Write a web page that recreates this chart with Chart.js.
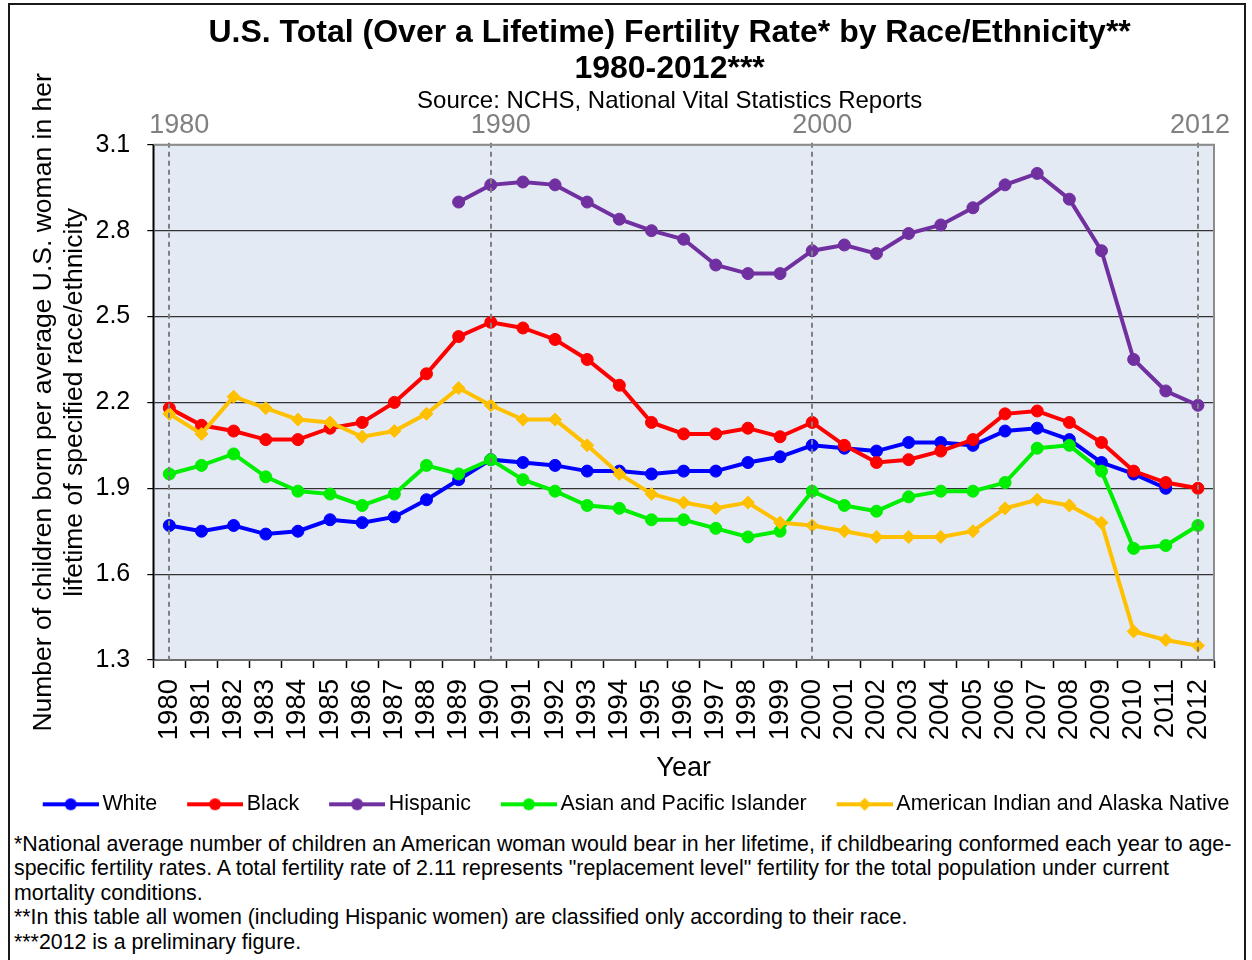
<!DOCTYPE html>
<html>
<head>
<meta charset="utf-8">
<script src="https://cdn.jsdelivr.net/npm/chart.js@4.4.0/dist/chart.umd.min.js"></script>
<style>
  html, body { margin: 0; padding: 0; background: #fff; }
  #wrap { position: relative; width: 1252px; height: 960px; overflow: hidden; }
  #frame { position: absolute; left: 8px; top: 3px; width: 1238px; height: 990px; border: 2px solid #1a1a1a; box-sizing: border-box; }
  #box { position: absolute; left: 0; top: 0; width: 1252px; height: 827px; }
  #notes { position: absolute; left: 14px; top: 832px; width: 1236px; font: 21.35px "Liberation Sans", Arial, sans-serif; line-height: 24.4px; color: #000; white-space: nowrap; }
</style>
</head>
<body>
<div id="wrap">
  <div id="frame"></div>
  <div id="box"><canvas id="chart"></canvas></div>
  <div id="notes">
    *National average number of children an American woman would bear in her lifetime, if childbearing conformed each year to age-<br>
    specific fertility rates. A total fertility rate of 2.11 represents "replacement level" fertility for the total population under current<br>
    mortality conditions.<br>
    **In this table all women (including Hispanic women) are classified only according to their race.<br>
    ***2012 is a preliminary figure.
  </div>
</div>
<script>
const years = ["1980", "1981", "1982", "1983", "1984", "1985", "1986", "1987", "1988", "1989",
  "1990", "1991", "1992", "1993", "1994", "1995", "1996", "1997", "1998", "1999",
  "2000", "2001", "2002", "2003", "2004", "2005", "2006", "2007", "2008", "2009",
  "2010", "2011", "2012"];

const white = [1.77, 1.75, 1.77, 1.74, 1.75, 1.79, 1.78, 1.80, 1.86, 1.93,
  2.00, 1.99, 1.98, 1.96, 1.96, 1.95, 1.96, 1.96, 1.99, 2.01,
  2.05, 2.04, 2.03, 2.06, 2.06, 2.05, 2.10, 2.11, 2.07, 1.99,
  1.95, 1.90, null];

const black = [2.18, 2.12, 2.10, 2.07, 2.07, 2.11, 2.13, 2.20, 2.30, 2.43,
  2.48, 2.46, 2.42, 2.35, 2.26, 2.13, 2.09, 2.09, 2.11, 2.08,
  2.13, 2.05, 1.99, 2.00, 2.03, 2.07, 2.16, 2.17, 2.13, 2.06,
  1.96, 1.92, 1.90];

const hispanic = [null, null, null, null, null, null, null, null, null, 2.90,
  2.96, 2.97, 2.96, 2.90, 2.84, 2.80, 2.77, 2.68, 2.65, 2.65,
  2.73, 2.75, 2.72, 2.79, 2.82, 2.88, 2.96, 3.00, 2.91, 2.73,
  2.35, 2.24, 2.19];

const asian = [1.95, 1.98, 2.02, 1.94, 1.89, 1.88, 1.84, 1.88, 1.98, 1.95,
  2.00, 1.93, 1.89, 1.84, 1.83, 1.79, 1.79, 1.76, 1.73, 1.75,
  1.89, 1.84, 1.82, 1.87, 1.89, 1.89, 1.92, 2.04, 2.05, 1.96,
  1.69, 1.70, 1.77];

const aian = [2.16, 2.09, 2.22, 2.18, 2.14, 2.13, 2.08, 2.10, 2.16, 2.25,
  2.19, 2.14, 2.14, 2.05, 1.95, 1.88, 1.85, 1.83, 1.85, 1.78,
  1.77, 1.75, 1.73, 1.73, 1.73, 1.75, 1.83, 1.86, 1.84, 1.78,
  1.40, 1.37, 1.35];

const markYears = ["1980", "1990", "2000", "2012"];
const yTicks = [1.3, 1.6, 1.9, 2.2, 2.5, 2.8, 3.1];

const FONT = '"Liberation Sans", Arial, sans-serif';
Chart.defaults.font.family = FONT;
Chart.defaults.color = "#000";

// little line+marker pictures for the legend
function legendIcon(color, shape) {
  const c = document.createElement("canvas");
  c.width = 83;
  c.height = 16;
  const ctx = c.getContext("2d");
  ctx.strokeStyle = color;
  ctx.fillStyle = color;
  ctx.lineWidth = 4;
  ctx.beginPath();
  ctx.moveTo(27, 8);
  ctx.lineTo(83, 8);
  ctx.stroke();
  ctx.beginPath();
  if (shape === "diamond") {
    ctx.moveTo(55, 1.5);
    ctx.lineTo(61.5, 8);
    ctx.lineTo(55, 14.5);
    ctx.lineTo(48.5, 8);
    ctx.closePath();
  } else {
    ctx.arc(55, 8, 6, 0, Math.PI * 2);
  }
  ctx.fill();
  return c;
}

const series = [
  { label: "White", data: white, color: "#0000FF", style: "circle" },
  { label: "Black", data: black, color: "#FF0000", style: "circle" },
  { label: "Hispanic", data: hispanic, color: "#7030A0", style: "circle" },
  { label: "Asian and Pacific Islander", data: asian, color: "#00EE00", style: "circle" },
  { label: "American Indian and Alaska Native", data: aian, color: "#FFC000", style: "rectRot" }
];

const datasets = series.map((s, i) => ({
  label: s.label,
  data: s.data,
  borderColor: s.color,
  backgroundColor: s.color,
  pointBackgroundColor: s.color,
  pointBorderColor: s.color,
  pointBorderWidth: 1,
  pointStyle: s.style,
  pointRadius: s.style === "rectRot" ? 6.5 : 6,
  borderWidth: 4,
  tension: 0,
  yAxisID: "y",
  order: series.length - i
}));

const icons = series.map(s => legendIcon(s.color, s.style === "rectRot" ? "diamond" : "circle"));

const plotDecor = {
  id: "plotDecor",
  afterLayout(chart) {
    // headings sit a little left of the plot centre
    chart.boxes.filter(b => b.position === "top").forEach(b => { b.left -= 28; });
  },
  beforeDraw(chart) {
    const a = chart.chartArea;
    const ctx = chart.ctx;
    ctx.save();
    ctx.fillStyle = "#E4EAF4";
    ctx.fillRect(a.left, a.top, a.right - a.left, a.bottom - a.top);
    ctx.restore();
  },
  afterDatasetsDraw(chart) {
    const a = chart.chartArea;
    const ctx = chart.ctx;
    const x = chart.scales.x;
    ctx.save();
    ctx.strokeStyle = "#808080";
    ctx.lineWidth = 2;
    ctx.setLineDash([5, 4]);
    markYears.forEach(y => {
      const px = Math.round(x.getPixelForValue(years.indexOf(y)));
      ctx.beginPath();
      ctx.moveTo(px, a.top - 2);
      ctx.lineTo(px, a.bottom);
      ctx.stroke();
    });
    ctx.setLineDash([]);
    ctx.fillStyle = "#808080";
    ctx.font = "27px " + FONT;
    ctx.textAlign = "center";
    ctx.textBaseline = "middle";
    markYears.forEach((y, i) => {
      const px = x.getPixelForValue(years.indexOf(y));
      const shift = i === markYears.length - 1 ? 2 : 10;
      ctx.fillText(y, px + shift, a.top - 19);
    });
    ctx.restore();
  },
  afterDraw(chart) {
    const a = chart.chartArea;
    const ctx = chart.ctx;
    ctx.save();
    ctx.strokeStyle = "#8C8C8C";
    ctx.lineWidth = 2;
    ctx.beginPath();
    ctx.moveTo(a.left, a.top);
    ctx.lineTo(a.right, a.top);
    ctx.lineTo(a.right, a.bottom);
    ctx.stroke();
    ctx.strokeStyle = "#000";
    ctx.lineWidth = 1.5;
    ctx.beginPath();
    ctx.moveTo(a.left, a.top);
    ctx.lineTo(a.left, a.bottom);
    ctx.stroke();
    ctx.restore();
  }
};

const config = {
  type: "line",
  data: { labels: years, datasets: datasets },
  options: {
    responsive: true,
    maintainAspectRatio: false,
    animation: false,
    spanGaps: false,
    layout: { padding: { left: 0, right: 0, top: 0, bottom: 2 } },
    plugins: {
      title: {
        display: true,
        fullSize: false,
        text: ["U.S. Total (Over a Lifetime) Fertility Rate* by Race/Ethnicity**", "1980-2012***"],
        font: { size: 32, weight: "bold", lineHeight: 1.125 },
        color: "#000",
        padding: { top: 15, bottom: 0 }
      },
      subtitle: {
        display: true,
        fullSize: false,
        text: "Source: NCHS, National Vital Statistics Reports",
        font: { size: 24, lineHeight: 1.2 },
        color: "#000",
        padding: { top: 0, bottom: 29 }
      },
      legend: {
        position: "bottom",
        labels: {
          usePointStyle: true,
          pointStyleWidth: 69,
          padding: 10,
          font: { size: 21.4 },
          color: "#000",
          generateLabels: chart => chart.data.datasets.map((ds, i) => ({
            text: ds.label,
            pointStyle: icons[i],
            fillStyle: ds.borderColor,
            strokeStyle: ds.borderColor,
            lineWidth: 0,
            hidden: false,
            datasetIndex: i,
            fontColor: "#000"
          }))
        }
      },
      tooltip: { enabled: false }
    },
    scales: {
      x: {
        offset: true,
        grid: { offset: true, drawOnChartArea: false, drawTicks: true, tickLength: 8, tickColor: "#000", tickWidth: 1.5 },
        border: { display: true, color: "#6E6E6E", width: 2 },
        ticks: { autoSkip: false, maxRotation: 90, minRotation: 90, padding: 11, font: { size: 27.5 }, color: "#000" },
        title: { display: true, text: "Year", font: { size: 27, lineHeight: 1.2 }, color: "#000", padding: { top: 1, bottom: -1 } }
      },
      y: {
        min: 1.3,
        max: 3.1,
        afterBuildTicks: scale => { scale.ticks = yTicks.map(v => ({ value: v })); },
        grid: { color: "#333333", lineWidth: 1.2, tickLength: 6, tickColor: "#000", drawTicks: true },
        border: { display: true, color: "#000", width: 1.5 },
        ticks: { padding: 17, font: { size: 25 }, color: "#000", callback: v => Number(v).toFixed(1) },
        title: {
          display: true,
          text: ["Number of children born per average U.S. woman in her", "lifetime of specified race/ethnicity"],
          font: { size: 26.5, lineHeight: 1.17 },
          color: "#000",
          padding: { top: 28.5, bottom: -12 }
        }
      },
      // empty right-hand axis: only keeps the margin right of the plot
      yRight: {
        position: "right",
        display: true,
        min: 1.3,
        max: 3.1,
        grid: { display: false, drawTicks: false },
        border: { display: false },
        ticks: { display: false },
        afterFit: scale => { scale.width = 38; }
      }
    }
  },
  plugins: [plotDecor]
};

const myChart = new Chart(document.getElementById("chart"), config);
</script>
</body>
</html>
